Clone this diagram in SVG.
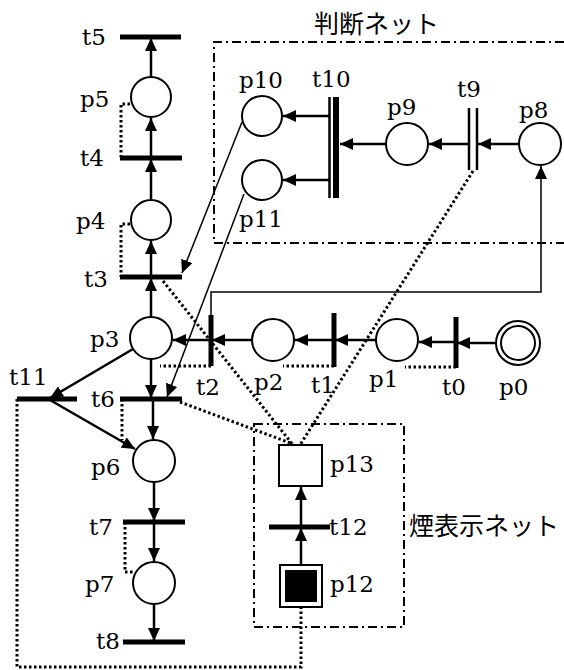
<svg xmlns="http://www.w3.org/2000/svg" width="564" height="670" viewBox="0 0 564 670">
<style>
.lbl{font-family:"DejaVu Serif","Liberation Serif",serif;font-size:23px;fill:#000}
.jp{font-family:"Noto Sans CJK JP",sans-serif;font-size:25px;fill:#000}
.pl{fill:#fff;stroke:#000;stroke-width:2}
.bar{stroke:#000;stroke-width:5;fill:none}
.tl{stroke:#000;stroke-width:2.5;fill:none}
.arc{stroke:#000;stroke-width:2.5;fill:none;marker-end:url(#ah)}
.thin{stroke:#000;stroke-width:1.5;fill:none;marker-end:url(#ah)}
.dot{stroke:#000;stroke-width:3;fill:none;stroke-dasharray:2.5 2.5}
.box{stroke:#000;stroke-width:2;fill:none;stroke-dasharray:9 4 2 4}
</style>
<defs>
<marker id="ah" markerUnits="userSpaceOnUse" markerWidth="14" markerHeight="12" refX="13" refY="6" orient="auto">
<path d="M0,0 L13,6 L0,12 z" fill="#000"/>
</marker>
</defs>

<g id="judgeNet">
<path class="box" d="M564,42 H214 V243 H564"/>
<text class="jp" x="314" y="33">判断ネット</text>
</g>
<g id="smokeNet">
<rect class="box" x="254" y="424" width="150" height="203"/>
<text class="jp" x="409" y="535">煙表示ネット</text>
</g>

<g id="connectors">
<line class="arc" x1="151" y1="77" x2="151" y2="38"/>
<line class="arc" x1="151" y1="158" x2="151" y2="118"/>
<line class="arc" x1="151" y1="200" x2="151" y2="159"/>
<line class="arc" x1="151" y1="277" x2="151" y2="241"/>
<line class="arc" x1="151" y1="317" x2="151" y2="278"/>
<line class="arc" x1="151" y1="359" x2="151" y2="398"/>
<line class="arc" x1="153" y1="400" x2="153" y2="439"/>
<line class="arc" x1="154" y1="482" x2="154" y2="521"/>
<line class="arc" x1="154" y1="522" x2="154" y2="561"/>
<line class="arc" x1="154" y1="604" x2="154" y2="641"/>
<line class="arc" x1="211" y1="340" x2="173" y2="340"/>
<line class="arc" x1="252" y1="340" x2="212" y2="340"/>
<line class="arc" x1="334" y1="340" x2="295" y2="340"/>
<line class="arc" x1="376" y1="340" x2="335" y2="340"/>
<line class="arc" x1="456" y1="342" x2="419" y2="342"/>
<line class="arc" x1="496" y1="343" x2="457" y2="343"/>
<line class="arc" x1="133" y1="349" x2="50" y2="398"/>
<line class="arc" x1="50" y1="400" x2="135" y2="449"/>
<line class="arc" x1="519" y1="144" x2="478" y2="144"/>
<line class="arc" x1="469" y1="144" x2="429" y2="144"/>
<line class="arc" x1="386" y1="144" x2="340" y2="144"/>
<line class="arc" x1="329" y1="116" x2="283" y2="116"/>
<line class="arc" x1="329" y1="180" x2="283" y2="180"/>
<line class="arc" x1="301" y1="565" x2="301" y2="528"/>
<line class="arc" x1="301" y1="527" x2="301" y2="487"/>
<line class="thin" x1="242" y1="122" x2="182" y2="273"/>
<line class="thin" x1="244" y1="194" x2="167" y2="397"/>
<path class="thin" d="M211,315 V292 H541 V166"/>
<path class="dot" d="M130,104 H121 V158"/>
<path class="dot" d="M130,224 H121 V277"/>
<path class="dot" d="M122,399 V440"/>
<path class="dot" d="M125,522 V572 H133"/>
<path class="dot" d="M211,366 H160"/>
<path class="dot" d="M334,366 H283"/>
<path class="dot" d="M456,367 H405"/>
<path class="dot" d="M163,281 L293,445"/>
<path class="dot" d="M180,402 L293,444"/>
<path class="dot" d="M473,171 L300,445"/>
<path class="dot" d="M17,399 V667 H301 V608"/>
</g>

<g id="t5"><line class="bar" x1="120" y1="37" x2="181" y2="37"/><text class="lbl" x="82" y="45">t5</text></g>
<g id="p5"><circle class="pl" cx="151" cy="97" r="20"/><text class="lbl" x="80" y="107">p5</text></g>
<g id="t4"><line class="bar" x1="120" y1="158" x2="182" y2="158"/><text class="lbl" x="80" y="166">t4</text></g>
<g id="p4"><circle class="pl" cx="151" cy="220" r="20"/><text class="lbl" x="76" y="229">p4</text></g>
<g id="t3"><line class="bar" x1="120" y1="277" x2="182" y2="277"/><text class="lbl" x="84" y="287">t3</text></g>
<g id="p3"><circle class="pl" cx="151" cy="338" r="21"/><text class="lbl" x="90" y="347">p3</text></g>
<g id="t6"><line class="bar" x1="120" y1="399" x2="182" y2="399"/><text class="lbl" x="91" y="407">t6</text></g>
<g id="t11"><line class="bar" x1="17" y1="399" x2="77" y2="399"/><text class="lbl" x="9" y="385">t11</text></g>
<g id="p6"><circle class="pl" cx="154" cy="461" r="21"/><text class="lbl" x="91" y="475">p6</text></g>
<g id="t7"><line class="bar" x1="123" y1="522" x2="185" y2="522"/><text class="lbl" x="89" y="535">t7</text></g>
<g id="p7"><circle class="pl" cx="154" cy="583" r="21"/><text class="lbl" x="85" y="592">p7</text></g>
<g id="t8"><line class="bar" x1="123" y1="642" x2="185" y2="642"/><text class="lbl" x="96" y="649">t8</text></g>
<g id="t2"><line class="bar" x1="211" y1="315" x2="211" y2="366"/><text class="lbl" x="196" y="395">t2</text></g>
<g id="p2"><circle class="pl" cx="273" cy="340" r="21"/><text class="lbl" x="254" y="390">p2</text></g>
<g id="t1"><line class="bar" x1="334" y1="313" x2="334" y2="367"/><text class="lbl" x="311" y="393">t1</text></g>
<g id="p1"><circle class="pl" cx="397" cy="340" r="21"/><text class="lbl" x="369" y="387">p1</text></g>
<g id="t0"><line class="bar" x1="456" y1="317" x2="456" y2="368"/><text class="lbl" x="442" y="395">t0</text></g>
<g id="p0"><circle class="pl" cx="518" cy="343" r="22"/><circle class="pl" cx="518" cy="343" r="17"/><text class="lbl" x="499" y="395">p0</text></g>
<g id="p8"><circle class="pl" cx="540" cy="144" r="21"/><text class="lbl" x="519" y="118">p8</text></g>
<g id="t9"><line class="tl" x1="469" y1="108" x2="469" y2="170"/><line class="tl" x1="477" y1="108" x2="477" y2="170"/><text class="lbl" x="457" y="97">t9</text></g>
<g id="p9"><circle class="pl" cx="407" cy="144" r="21"/><text class="lbl" x="387" y="115">p9</text></g>
<g id="t10"><line class="tl" x1="329.5" y1="97" x2="329.5" y2="198"/><rect x="333" y="97" width="6" height="101" fill="#000"/><text class="lbl" x="312" y="87">t10</text></g>
<g id="p10"><circle class="pl" cx="262" cy="116" r="20"/><text class="lbl" x="239" y="88">p10</text></g>
<g id="p11"><circle class="pl" cx="262" cy="180" r="20"/><text class="lbl" x="239" y="227">p11</text></g>
<g id="p13"><rect class="pl" x="279" y="445" width="43" height="41"/><text class="lbl" x="330" y="472">p13</text></g>
<g id="t12"><line class="bar" x1="269" y1="527" x2="330" y2="527"/><text class="lbl" x="329" y="535">t12</text></g>
<g id="p12"><rect class="pl" x="280" y="565" width="42" height="42"/><rect x="285" y="570" width="32" height="32" fill="#000"/><text class="lbl" x="330" y="592">p12</text></g>
</svg>
